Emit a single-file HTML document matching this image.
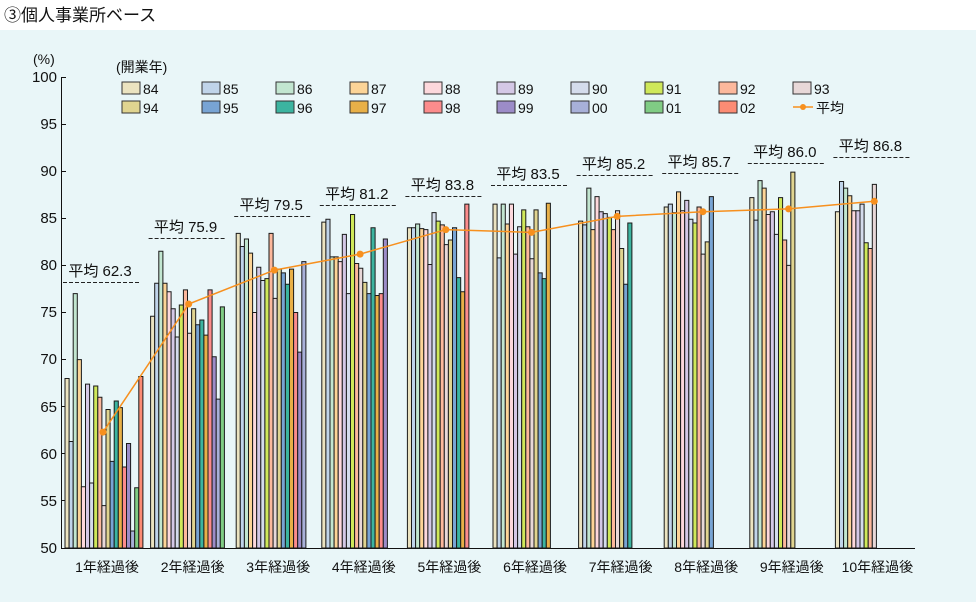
<!DOCTYPE html>
<html><head><meta charset="utf-8"><style>
body{margin:0;background:#fff}
svg{display:block;font-family:"Liberation Sans","Noto Sans CJK JP",sans-serif}
.b rect{stroke:#1a1a1a;stroke-width:1;vector-effect:non-scaling-stroke}
.c0{fill:#ebe3c0}.c1{fill:#c0d4ea}.c2{fill:#c2e6d0}.c3{fill:#fcd497}.c4{fill:#fdd8dc}.c5{fill:#d4c8e6}.c6{fill:#d4dcec}.c7{fill:#cfe85a}.c8{fill:#fcb89c}.c9{fill:#e8d8d8}.c10{fill:#e0d490}.c11{fill:#78a4d4}.c12{fill:#3cb4a0}.c13{fill:#e8b048}.c14{fill:#fc8c8c}.c15{fill:#9c8cc8}.c16{fill:#a8b0d8}.c17{fill:#80cc84}.c18{fill:#fc8c74}
.lg rect{stroke:#333;stroke-width:1}
</style></head><body>
<svg width="976" height="602" viewBox="0 0 976 602" xmlns="http://www.w3.org/2000/svg">
<rect x="0" y="0" width="976" height="602" fill="#e9f6f8"/>
<rect x="0" y="0" width="976" height="30" fill="#ffffff"/>
<text x="4" y="21" font-size="17" fill="#111">③個人事業所ベース</text>
<text x="33" y="64" font-size="14" fill="#111">(%)</text>

<g font-size="15" fill="#111" text-anchor="end">
<text x="57" y="82">100</text><text x="57" y="129">95</text><text x="57" y="176">90</text><text x="57" y="223">85</text><text x="57" y="270">80</text><text x="57" y="317">75</text><text x="57" y="364">70</text><text x="57" y="412">65</text><text x="57" y="459">60</text><text x="57" y="506">55</text><text x="57" y="553">50</text>
</g>
<g stroke="#111" stroke-width="1">
<line x1="61.5" y1="77" x2="61.5" y2="548"/>
<line x1="61" y1="548.5" x2="915" y2="548.5"/>
<line x1="61" y1="77.5" x2="66" y2="77.5"/><line x1="61" y1="124.5" x2="66" y2="124.5"/><line x1="61" y1="171.5" x2="66" y2="171.5"/><line x1="61" y1="218.5" x2="66" y2="218.5"/><line x1="61" y1="265.5" x2="66" y2="265.5"/><line x1="61" y1="312.5" x2="66" y2="312.5"/><line x1="61" y1="359.5" x2="66" y2="359.5"/><line x1="61" y1="406.5" x2="66" y2="406.5"/><line x1="61" y1="453.5" x2="66" y2="453.5"/><line x1="61" y1="500.5" x2="66" y2="500.5"/>
</g>

<g class="b">
<g transform="translate(65,548) scale(1,-9.42)">
<rect class="c0" x="0" width="4.1" height="18"/><rect class="c1" x="4.1" width="4.1" height="11.3"/><rect class="c2" x="8.2" width="4.1" height="27"/><rect class="c3" x="12.3" width="4.1" height="20"/><rect class="c4" x="16.4" width="4.1" height="6.5"/><rect class="c5" x="20.5" width="4.1" height="17.4"/><rect class="c6" x="24.6" width="4.1" height="6.9"/><rect class="c7" x="28.7" width="4.1" height="17.2"/><rect class="c8" x="32.8" width="4.1" height="16"/><rect class="c9" x="36.9" width="4.1" height="4.5"/><rect class="c10" x="41" width="4.1" height="14.7"/><rect class="c11" x="45.1" width="4.1" height="9.2"/><rect class="c12" x="49.2" width="4.1" height="15.6"/><rect class="c13" x="53.3" width="4.1" height="14.9"/><rect class="c14" x="57.4" width="4.1" height="8.6"/><rect class="c15" x="61.5" width="4.1" height="11.1"/><rect class="c16" x="65.6" width="4.1" height="1.8"/><rect class="c17" x="69.7" width="4.1" height="6.4"/><rect class="c18" x="73.8" width="4.1" height="18.2"/>
</g>
<g transform="translate(150.6,548) scale(1,-9.42)">
<rect class="c0" x="0" width="4.1" height="24.6"/><rect class="c1" x="4.1" width="4.1" height="28.1"/><rect class="c2" x="8.2" width="4.1" height="31.5"/><rect class="c3" x="12.3" width="4.1" height="28.1"/><rect class="c4" x="16.4" width="4.1" height="27.2"/><rect class="c5" x="20.5" width="4.1" height="25.4"/><rect class="c6" x="24.6" width="4.1" height="22.4"/><rect class="c7" x="28.7" width="4.1" height="25.8"/><rect class="c8" x="32.8" width="4.1" height="27.4"/><rect class="c9" x="36.9" width="4.1" height="22.8"/><rect class="c10" x="41" width="4.1" height="25.4"/><rect class="c11" x="45.1" width="4.1" height="23.7"/><rect class="c12" x="49.2" width="4.1" height="24.2"/><rect class="c13" x="53.3" width="4.1" height="22.6"/><rect class="c14" x="57.4" width="4.1" height="27.4"/><rect class="c15" x="61.5" width="4.1" height="20.3"/><rect class="c16" x="65.6" width="4.1" height="15.8"/><rect class="c17" x="69.7" width="4.1" height="25.6"/>
</g>
<g transform="translate(236.2,548) scale(1,-9.42)">
<rect class="c0" x="0" width="4.1" height="33.4"/><rect class="c1" x="4.1" width="4.1" height="32"/><rect class="c2" x="8.2" width="4.1" height="32.8"/><rect class="c3" x="12.3" width="4.1" height="31.3"/><rect class="c4" x="16.4" width="4.1" height="25"/><rect class="c5" x="20.5" width="4.1" height="29.8"/><rect class="c6" x="24.6" width="4.1" height="28.4"/><rect class="c7" x="28.7" width="4.1" height="28.6"/><rect class="c8" x="32.8" width="4.1" height="33.4"/><rect class="c9" x="36.9" width="4.1" height="26.5"/><rect class="c10" x="41" width="4.1" height="29.6"/><rect class="c11" x="45.1" width="4.1" height="29.2"/><rect class="c12" x="49.2" width="4.1" height="28"/><rect class="c13" x="53.3" width="4.1" height="29.6"/><rect class="c14" x="57.4" width="4.1" height="25"/><rect class="c15" x="61.5" width="4.1" height="20.8"/><rect class="c16" x="65.6" width="4.1" height="30.4"/>
</g>
<g transform="translate(321.8,548) scale(1,-9.42)">
<rect class="c0" x="0" width="4.1" height="34.6"/><rect class="c1" x="4.1" width="4.1" height="34.9"/><rect class="c2" x="8.2" width="4.1" height="30.9"/><rect class="c3" x="12.3" width="4.1" height="30.9"/><rect class="c4" x="16.4" width="4.1" height="30.4"/><rect class="c5" x="20.5" width="4.1" height="33.3"/><rect class="c6" x="24.6" width="4.1" height="27"/><rect class="c7" x="28.7" width="4.1" height="35.4"/><rect class="c8" x="32.8" width="4.1" height="30.2"/><rect class="c9" x="36.9" width="4.1" height="29.7"/><rect class="c10" x="41" width="4.1" height="28.2"/><rect class="c11" x="45.1" width="4.1" height="27"/><rect class="c12" x="49.2" width="4.1" height="34"/><rect class="c13" x="53.3" width="4.1" height="26.8"/><rect class="c14" x="57.4" width="4.1" height="27"/><rect class="c15" x="61.5" width="4.1" height="32.8"/>
</g>
<g transform="translate(407.4,548) scale(1,-9.42)">
<rect class="c0" x="0" width="4.1" height="34"/><rect class="c1" x="4.1" width="4.1" height="34"/><rect class="c2" x="8.2" width="4.1" height="34.4"/><rect class="c3" x="12.3" width="4.1" height="33.9"/><rect class="c4" x="16.4" width="4.1" height="33.8"/><rect class="c5" x="20.5" width="4.1" height="30.1"/><rect class="c6" x="24.6" width="4.1" height="35.6"/><rect class="c7" x="28.7" width="4.1" height="34.7"/><rect class="c8" x="32.8" width="4.1" height="34.3"/><rect class="c9" x="36.9" width="4.1" height="32.2"/><rect class="c10" x="41" width="4.1" height="32.7"/><rect class="c11" x="45.1" width="4.1" height="34"/><rect class="c12" x="49.2" width="4.1" height="28.7"/><rect class="c13" x="53.3" width="4.1" height="27.2"/><rect class="c14" x="57.4" width="4.1" height="36.5"/>
</g>
<g transform="translate(493,548) scale(1,-9.42)">
<rect class="c0" x="0" width="4.1" height="36.5"/><rect class="c1" x="4.1" width="4.1" height="30.8"/><rect class="c2" x="8.2" width="4.1" height="36.5"/><rect class="c3" x="12.3" width="4.1" height="34.4"/><rect class="c4" x="16.4" width="4.1" height="36.5"/><rect class="c5" x="20.5" width="4.1" height="31.2"/><rect class="c6" x="24.6" width="4.1" height="34.1"/><rect class="c7" x="28.7" width="4.1" height="35.9"/><rect class="c8" x="32.8" width="4.1" height="34.1"/><rect class="c9" x="36.9" width="4.1" height="30.7"/><rect class="c10" x="41" width="4.1" height="35.9"/><rect class="c11" x="45.1" width="4.1" height="29.2"/><rect class="c12" x="49.2" width="4.1" height="28.6"/><rect class="c13" x="53.3" width="4.1" height="36.6"/>
</g>
<g transform="translate(578.6,548) scale(1,-9.42)">
<rect class="c0" x="0" width="4.1" height="34.7"/><rect class="c1" x="4.1" width="4.1" height="34.3"/><rect class="c2" x="8.2" width="4.1" height="38.2"/><rect class="c3" x="12.3" width="4.1" height="33.8"/><rect class="c4" x="16.4" width="4.1" height="37.3"/><rect class="c5" x="20.5" width="4.1" height="35.7"/><rect class="c6" x="24.6" width="4.1" height="35.5"/><rect class="c7" x="28.7" width="4.1" height="35.1"/><rect class="c8" x="32.8" width="4.1" height="33.8"/><rect class="c9" x="36.9" width="4.1" height="35.8"/><rect class="c10" x="41" width="4.1" height="31.8"/><rect class="c11" x="45.1" width="4.1" height="28"/><rect class="c12" x="49.2" width="4.1" height="34.5"/>
</g>
<g transform="translate(664.2,548) scale(1,-9.42)">
<rect class="c0" x="0" width="4.1" height="36.2"/><rect class="c1" x="4.1" width="4.1" height="36.5"/><rect class="c2" x="8.2" width="4.1" height="35.6"/><rect class="c3" x="12.3" width="4.1" height="37.8"/><rect class="c4" x="16.4" width="4.1" height="35.8"/><rect class="c5" x="20.5" width="4.1" height="36.9"/><rect class="c6" x="24.6" width="4.1" height="34.9"/><rect class="c7" x="28.7" width="4.1" height="34.5"/><rect class="c8" x="32.8" width="4.1" height="36.2"/><rect class="c9" x="36.9" width="4.1" height="31.2"/><rect class="c10" x="41" width="4.1" height="32.5"/><rect class="c11" x="45.1" width="4.1" height="37.3"/>
</g>
<g transform="translate(749.8,548) scale(1,-9.42)">
<rect class="c0" x="0" width="4.1" height="37.2"/><rect class="c1" x="4.1" width="4.1" height="34.8"/><rect class="c2" x="8.2" width="4.1" height="39"/><rect class="c3" x="12.3" width="4.1" height="38.2"/><rect class="c4" x="16.4" width="4.1" height="35.4"/><rect class="c5" x="20.5" width="4.1" height="35.7"/><rect class="c6" x="24.6" width="4.1" height="33.3"/><rect class="c7" x="28.7" width="4.1" height="37.2"/><rect class="c8" x="32.8" width="4.1" height="32.7"/><rect class="c9" x="36.9" width="4.1" height="30"/><rect class="c10" x="41" width="4.1" height="39.9"/>
</g>
<g transform="translate(835.4,548) scale(1,-9.42)">
<rect class="c0" x="0" width="4.1" height="35.7"/><rect class="c1" x="4.1" width="4.1" height="38.9"/><rect class="c2" x="8.2" width="4.1" height="38.2"/><rect class="c3" x="12.3" width="4.1" height="37.4"/><rect class="c4" x="16.4" width="4.1" height="35.8"/><rect class="c5" x="20.5" width="4.1" height="35.8"/><rect class="c6" x="24.6" width="4.1" height="36.5"/><rect class="c7" x="28.7" width="4.1" height="32.4"/><rect class="c8" x="32.8" width="4.1" height="31.8"/><rect class="c9" x="36.9" width="4.1" height="38.6"/>
</g>
</g>

<g stroke="#222" stroke-width="1" stroke-dasharray="4,2">
<line x1="63" y1="282.5" x2="139" y2="282.5"/>
<line x1="148.6" y1="238.5" x2="224.6" y2="238.5"/>
<line x1="234.2" y1="216.5" x2="310.2" y2="216.5"/>
<line x1="319.8" y1="205.5" x2="395.8" y2="205.5"/>
<line x1="405.4" y1="196.5" x2="481.4" y2="196.5"/>
<line x1="491" y1="185.5" x2="567" y2="185.5"/>
<line x1="576.6" y1="175.5" x2="652.6" y2="175.5"/>
<line x1="662.2" y1="173.5" x2="738.2" y2="173.5"/>
<line x1="747.8" y1="163.5" x2="823.8" y2="163.5"/>
<line x1="833.4" y1="157.5" x2="909.4" y2="157.5"/>
</g>
<g font-size="15" fill="#111" text-anchor="middle">
<text x="100" y="276">平均 62.3</text>
<text x="185.6" y="232">平均 75.9</text>
<text x="271.2" y="210">平均 79.5</text>
<text x="356.8" y="199">平均 81.2</text>
<text x="442.4" y="190">平均 83.8</text>
<text x="528" y="179">平均 83.5</text>
<text x="613.6" y="169">平均 85.2</text>
<text x="699.2" y="167">平均 85.7</text>
<text x="784.8" y="157">平均 86.0</text>
<text x="870.4" y="151">平均 86.8</text>
</g>

<polyline points="103,432.1 188.7,304 274.4,270.1 360.1,254.1 445.8,229.6 531.5,232.4 617.2,216.4 702.9,211.7 788.6,208.9 874.3,201.3" fill="none" stroke="#f7901e" stroke-width="1.5"/>
<g fill="#f7901e">
<circle cx="103" cy="432.1" r="3.5"/><circle cx="188.7" cy="304" r="3.5"/><circle cx="274.4" cy="270.1" r="3.5"/><circle cx="360.1" cy="254.1" r="3.5"/><circle cx="445.8" cy="229.6" r="3.5"/><circle cx="531.5" cy="232.4" r="3.5"/><circle cx="617.2" cy="216.4" r="3.5"/><circle cx="702.9" cy="211.7" r="3.5"/><circle cx="788.6" cy="208.9" r="3.5"/><circle cx="874.3" cy="201.3" r="3.5"/>
</g>

<g font-size="14" fill="#111" text-anchor="middle">
<text x="107" y="572">1年経過後</text><text x="192.6" y="572">2年経過後</text><text x="278.2" y="572">3年経過後</text><text x="363.8" y="572">4年経過後</text><text x="449.4" y="572">5年経過後</text><text x="535" y="572">6年経過後</text><text x="620.6" y="572">7年経過後</text><text x="706.2" y="572">8年経過後</text><text x="791.8" y="572">9年経過後</text><text x="877.4" y="572">10年経過後</text>
</g>

<g class="lg" font-size="14" fill="#111">
<text x="116" y="72">(開業年)</text>
<rect class="c0" x="122" y="82" width="18" height="12"/><text x="143" y="94">84</text>
<rect class="c1" x="202" y="82" width="18" height="12"/><text x="223" y="94">85</text>
<rect class="c2" x="276" y="82" width="18" height="12"/><text x="297" y="94">86</text>
<rect class="c3" x="350" y="82" width="18" height="12"/><text x="371" y="94">87</text>
<rect class="c4" x="424" y="82" width="18" height="12"/><text x="445" y="94">88</text>
<rect class="c5" x="497" y="82" width="18" height="12"/><text x="518" y="94">89</text>
<rect class="c6" x="571" y="82" width="18" height="12"/><text x="592" y="94">90</text>
<rect class="c7" x="645" y="82" width="18" height="12"/><text x="666" y="94">91</text>
<rect class="c8" x="719" y="82" width="18" height="12"/><text x="740" y="94">92</text>
<rect class="c9" x="793" y="82" width="18" height="12"/><text x="814" y="94">93</text>
<rect class="c10" x="122" y="101" width="18" height="12"/><text x="143" y="113">94</text>
<rect class="c11" x="202" y="101" width="18" height="12"/><text x="223" y="113">95</text>
<rect class="c12" x="276" y="101" width="18" height="12"/><text x="297" y="113">96</text>
<rect class="c13" x="350" y="101" width="18" height="12"/><text x="371" y="113">97</text>
<rect class="c14" x="424" y="101" width="18" height="12"/><text x="445" y="113">98</text>
<rect class="c15" x="497" y="101" width="18" height="12"/><text x="518" y="113">99</text>
<rect class="c16" x="571" y="101" width="18" height="12"/><text x="592" y="113">00</text>
<rect class="c17" x="645" y="101" width="18" height="12"/><text x="666" y="113">01</text>
<rect class="c18" x="719" y="101" width="18" height="12"/><text x="740" y="113">02</text>
<line x1="793" y1="107" x2="813" y2="107" stroke="#f7901e" stroke-width="1.5"/>
<circle cx="803" cy="107" r="3" fill="#f7901e"/>
<text x="816" y="113">平均</text>
</g>
</svg>
</body></html>
